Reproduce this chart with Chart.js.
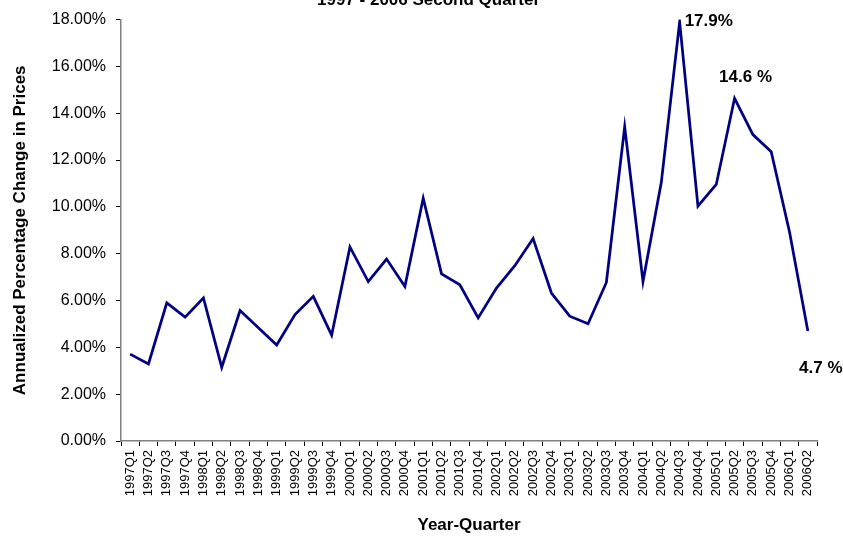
<!DOCTYPE html>
<html>
<head>
<meta charset="utf-8">
<script src="https://cdn.jsdelivr.net/npm/chart.js@4"></script>
<style>
  html, body { margin: 0; padding: 0; background: #fff; }
  #wrap { width: 843px; height: 536px; }
</style>
</head>
<body>
<div id="wrap"><canvas id="chart" width="843" height="536"></canvas></div>
<script>
// Quarterly annualized price change (percent)
const quarters = [
  '1997Q1', '1997Q2', '1997Q3', '1997Q4',
  '1998Q1', '1998Q2', '1998Q3', '1998Q4',
  '1999Q1', '1999Q2', '1999Q3', '1999Q4',
  '2000Q1', '2000Q2', '2000Q3', '2000Q4',
  '2001Q1', '2001Q2', '2001Q3', '2001Q4',
  '2002Q1', '2002Q2', '2002Q3', '2002Q4',
  '2003Q1', '2003Q2', '2003Q3', '2003Q4',
  '2004Q1', '2004Q2', '2004Q3', '2004Q4',
  '2005Q1', '2005Q2', '2005Q3', '2005Q4',
  '2006Q1', '2006Q2'
];

const priceChange = [
  3.71, 3.29, 5.90, 5.29,
  6.11, 3.15, 5.57, 4.84,
  4.10, 5.40, 6.18, 4.52,
  8.29, 6.81, 7.77, 6.60,
  10.37, 7.14, 6.67, 5.26,
  6.53, 7.49, 8.65, 6.32,
  5.33, 5.01, 6.77, 13.42,
  6.81, 11.05, 17.90, 10.03,
  10.96, 14.64, 13.09, 12.36,
  8.93, 4.70
];

// Call-outs on selected quarters: label text, anchor and pixel nudge
const callouts = [
  { quarter: '2004Q3', text: '17.9%', align: 'left', dx: 5, dy: 4 },
  { quarter: '2005Q2', text: '14.6 %', align: 'center', dx: 11, dy: -16 },
  { quarter: '2006Q2', text: '4.7 %', align: 'center', dx: 13, dy: 42 }
];

const FONT = "'Liberation Sans', Arial, sans-serif";
const AXIS_GRAY = '#808080';

// Title sits mostly above the top edge, like the cropped original
const topTitle = {
  id: 'topTitle',
  afterDraw(chart) {
    const ctx = chart.ctx;
    ctx.save();
    ctx.font = 'bold 17px ' + FONT;
    ctx.fillStyle = '#000';
    ctx.textAlign = 'center';
    ctx.textBaseline = 'alphabetic';
    ctx.fillText('1997 - 2006 Second Quarter', chart.width / 2 + 7, 5);
    ctx.restore();
  }
};

const calloutLabels = {
  id: 'calloutLabels',
  afterDatasetsDraw(chart) {
    const ctx = chart.ctx;
    const points = chart.getDatasetMeta(0).data;
    ctx.save();
    ctx.font = 'bold 17px ' + FONT;
    ctx.fillStyle = '#000';
    ctx.textBaseline = 'alphabetic';
    callouts.forEach(c => {
      const pt = points[quarters.indexOf(c.quarter)];
      ctx.textAlign = c.align;
      ctx.fillText(c.text, pt.x + c.dx, pt.y + c.dy);
    });
    ctx.restore();
  }
};

new Chart(document.getElementById('chart'), {
  type: 'line',
  data: {
    labels: quarters,
    datasets: [{
      data: priceChange,
      borderColor: '#000080',
      borderWidth: 2.75,
      pointRadius: 0,
      tension: 0,
      fill: false
    }]
  },
  options: {
    responsive: false,
    animation: false,
    layout: { padding: { top: 14, right: 26, bottom: 0, left: 0 } },
    plugins: {
      legend: { display: false },
      tooltip: { enabled: false },
      title: { display: false }
    },
    scales: {
      x: {
        type: 'category',
        offset: true,
        afterFit(scale) { scale.height = 95; },
        grid: {
          offset: true,
          drawOnChartArea: false,
          drawTicks: true,
          tickLength: 5,
          tickColor: '#000'
        },
        border: { display: true, color: AXIS_GRAY, width: 1.5 },
        ticks: {
          autoSkip: false,
          minRotation: 90,
          maxRotation: 90,
          padding: 4,
          color: '#000',
          font: { family: FONT, size: 13 }
        },
        title: {
          display: true,
          text: 'Year-Quarter',
          color: '#000',
          padding: { top: 0, bottom: 0 },
          font: { family: FONT, size: 17, weight: 'bold' }
        }
      },
      y: {
        min: 0,
        max: 18,
        afterFit(scale) { scale.width = 121; },
        grid: {
          drawOnChartArea: false,
          drawTicks: true,
          tickLength: 5,
          tickColor: '#000'
        },
        border: { display: true, color: AXIS_GRAY, width: 1.5 },
        ticks: {
          stepSize: 2,
          padding: 10,
          color: '#000',
          font: { family: FONT, size: 16 },
          callback: v => v.toFixed(2) + '%'
        },
        title: {
          display: true,
          text: 'Annualized Percentage Change in Prices',
          color: '#000',
          padding: { top: 10, bottom: 0 },
          font: { family: FONT, size: 17, weight: 'bold' }
        }
      }
    }
  },
  plugins: [topTitle, calloutLabels]
});
</script>
</body>
</html>
